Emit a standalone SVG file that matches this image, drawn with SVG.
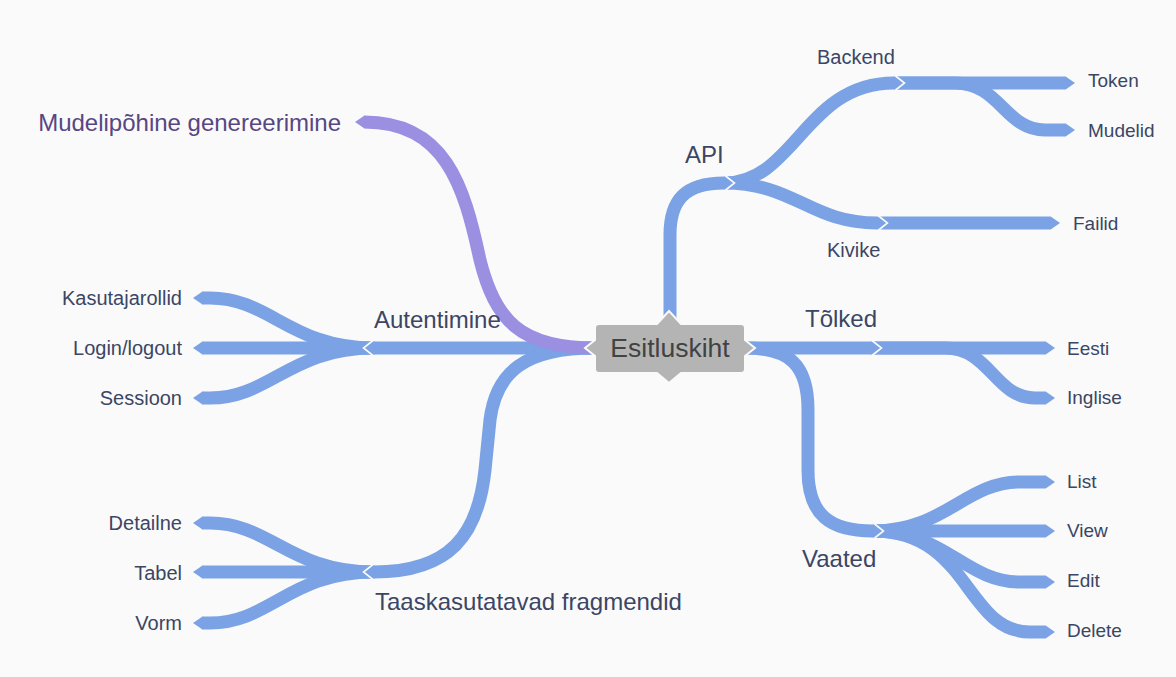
<svg xmlns="http://www.w3.org/2000/svg" width="1176" height="677" viewBox="0 0 1176 677">
<defs>
<style>
.b{fill:none;stroke:#7aa2e4;stroke-width:13;stroke-linecap:butt;stroke-linejoin:round}
.p{fill:none;stroke:#9b8fe2;stroke-width:13;stroke-linecap:butt}
.cut{fill:none;stroke:#fafafa;stroke-width:1.6;stroke-linejoin:miter}
.t1{font-family:"Liberation Sans",Arial,sans-serif;font-size:24px;fill:#3b4664}
.t2{font-family:"Liberation Sans",Arial,sans-serif;font-size:20px;fill:#3b4664}
.t3{font-family:"Liberation Sans",Arial,sans-serif;font-size:19px;fill:#3b4664}
.tp{font-family:"Liberation Sans",Arial,sans-serif;font-size:24px;fill:#574683}
.tc{font-family:"Liberation Sans",Arial,sans-serif;font-size:26.5px;fill:#424242}
</style>
<marker id="tb" markerUnits="userSpaceOnUse" viewBox="0 0 10 14" refX="0.5" refY="7" markerWidth="10" markerHeight="14" orient="auto"><path d="M0,0.5 L9.5,7 L0,13.5 Z" fill="#7aa2e4"/></marker>
<marker id="tpm" markerUnits="userSpaceOnUse" viewBox="0 0 10 14" refX="0.5" refY="7" markerWidth="10" markerHeight="14" orient="auto"><path d="M0,0.5 L9.5,7 L0,13.5 Z" fill="#9b8fe2"/></marker>
</defs>
<rect width="1176" height="677" fill="#fafafa"/>
<g id="connectors">
<path class="b" marker-end="url(#tb)" d="M670,330 L670,235 C670,200 685,183 724,183"/>
<path class="b" marker-end="url(#tb)" d="M724,183 C795,183 805,83 894,83"/>
<path class="b" marker-end="url(#tb)" d="M724,183 C795,183 810,223 877,223"/>
<path class="b" marker-end="url(#tb)" d="M894,83 L1066,83"/>
<path class="b" marker-end="url(#tb)" d="M894,83 L955,83 C1000,83 1005,130 1045,130 L1066,130"/>
<path class="b" marker-end="url(#tb)" d="M877,223 L1051,223"/>
<path class="b" marker-end="url(#tb)" d="M745,348 L871,348"/>
<path class="b" marker-end="url(#tb)" d="M871,348 L1046,348"/>
<path class="b" marker-end="url(#tb)" d="M871,348 L945,348 C990,348 995,398 1035,398 L1046,398"/>
<path class="b" marker-end="url(#tb)" d="M745,348 C790,348 808,365 808,410 L808,470 C808,515 830,531 873,531"/>
<path class="b" marker-end="url(#tb)" d="M873,531 C945,531 965,482 1020,482 L1046,482"/>
<path class="b" marker-end="url(#tb)" d="M873,531 L1046,531"/>
<path class="b" marker-end="url(#tb)" d="M873,531 C945,531 965,582 1020,582 L1046,582"/>
<path class="b" marker-end="url(#tb)" d="M873,531 C970,531 965,632 1030,632 L1046,632"/>
<path class="b" marker-end="url(#tb)" d="M595,348 L374,348"/>
<path class="b" marker-end="url(#tb)" d="M374,348 C290,348 270,298 210,298 L202,298"/>
<path class="b" marker-end="url(#tb)" d="M374,348 L202,348"/>
<path class="b" marker-end="url(#tb)" d="M374,348 C290,348 270,398 210,398 L202,398"/>
<path class="b" marker-end="url(#tb)" d="M595,348 C525,348 496,372 490,420 L485,470 C478,535 450,572 374,572"/>
<path class="b" marker-end="url(#tb)" d="M374,572 C290,572 270,523 210,523 L202,523"/>
<path class="b" marker-end="url(#tb)" d="M374,572 L202,572"/>
<path class="b" marker-end="url(#tb)" d="M374,572 C290,572 270,623 210,623 L202,623"/>
<path class="p" marker-end="url(#tpm)" d="M595,348 C520,348 495,320 480,260 C464,185 445,122 364,122"/>
<polyline class="cut" points="725,175.5 734.5,183 725,190.5"/>
<polyline class="cut" points="895,75.5 904.5,83 895,90.5"/>
<polyline class="cut" points="878,215.5 887.5,223 878,230.5"/>
<polyline class="cut" points="872,340.5 881.5,348 872,355.5"/>
<polyline class="cut" points="874,523.5 883.5,531 874,538.5"/>
<polyline class="cut" points="373,340.5 363.5,348 373,355.5"/>
<polyline class="cut" points="373,564.5 363.5,572 373,579.5"/>
</g>
<g id="center">
<path d="M599,324 L657,324 L669,311 L681,324 L741,324 Q745,324 745,328 L745,340 L755,348 L745,356 L745,369 Q745,373 741,373 L681,373 L669,383 L657,373 L599,373 Q595,373 595,369 L595,356 L585,348 L595,340 L595,328 Q595,324 599,324 Z" fill="#b4b4b4" stroke="#fafafa" stroke-width="2"/>
<text class="tc" x="670" y="357" text-anchor="middle">Esitluskiht</text>
</g>
<g id="api"><text class="t1" x="685" y="163">API</text></g>
<g id="backend"><text class="t2" x="817" y="64">Backend</text></g>
<g id="kivike"><text class="t2" x="827" y="257">Kivike</text></g>
<g id="token"><text class="t3" x="1088" y="87">Token</text></g>
<g id="mudelid"><text class="t3" x="1088" y="137">Mudelid</text></g>
<g id="failid"><text class="t3" x="1073" y="230">Failid</text></g>
<g id="tolked"><text class="t1" x="805" y="327">Tõlked</text></g>
<g id="eesti"><text class="t3" x="1067" y="355">Eesti</text></g>
<g id="inglise"><text class="t3" x="1067" y="404">Inglise</text></g>
<g id="vaated"><text class="t1" x="802" y="567">Vaated</text></g>
<g id="list"><text class="t3" x="1067" y="488">List</text></g>
<g id="view"><text class="t3" x="1067" y="537">View</text></g>
<g id="edit"><text class="t3" x="1067" y="587">Edit</text></g>
<g id="delete"><text class="t3" x="1067" y="637">Delete</text></g>
<g id="mudelipohine"><text class="tp" x="341" y="131" text-anchor="end">Mudelipõhine genereerimine</text></g>
<g id="autentimine"><text class="t1" x="374" y="328">Autentimine</text></g>
<g id="kasutajarollid"><text class="t2" x="182" y="305" text-anchor="end">Kasutajarollid</text></g>
<g id="login"><text class="t2" x="182" y="355" text-anchor="end">Login/logout</text></g>
<g id="sessioon"><text class="t2" x="182" y="405" text-anchor="end">Sessioon</text></g>
<g id="taaskasutatavad"><text class="t1" x="375" y="610">Taaskasutatavad fragmendid</text></g>
<g id="detailne"><text class="t2" x="182" y="530" text-anchor="end">Detailne</text></g>
<g id="tabel"><text class="t2" x="182" y="580" text-anchor="end">Tabel</text></g>
<g id="vorm"><text class="t2" x="182" y="630" text-anchor="end">Vorm</text></g>
</svg>
